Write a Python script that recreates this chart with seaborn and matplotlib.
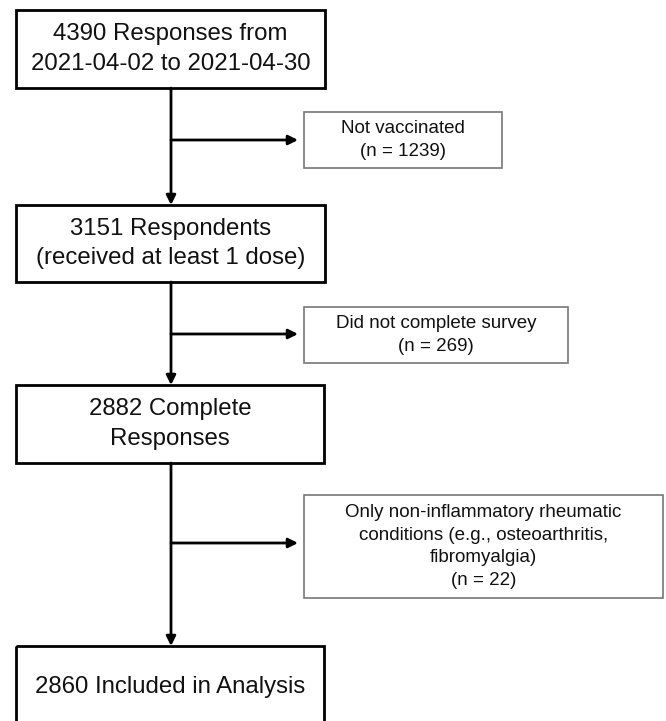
import matplotlib
matplotlib.use("Agg")
import matplotlib.pyplot as plt
from matplotlib.patches import Rectangle
import seaborn as sns

# flow data
main_counts = [4390, 3151, 2882, 2860]
main_texts = ["Responses from\n2021-04-02 to 2021-04-30",
              "Respondents\n(received at least 1 dose)",
              "Complete\nResponses",
              "Included in Analysis"]
excl_texts = ["Not vaccinated",
              "Did not complete survey",
              "Only non-inflammatory rheumatic\nconditions (e.g., osteoarthritis,\nfibromyalgia)"]
excl_n = [1239, 269, 22]

# layout (pixels, top-down)
main_boxes = [(16, 10, 325, 88), (16, 205, 325, 282), (16, 385, 324, 463), (16, 646, 324, 740)]
main_text_y = [49, 243.5, 424, 687]
excl_boxes = [(304, 112, 502, 168), (304, 307, 568, 363), (304, 495, 663, 598)]
branch_y = [140, 334, 543]
line_x = 171

sns.set_theme(style="white")
plt.rcParams['font.family'] = ['Liberation Sans', 'DejaVu Sans']

fig = plt.figure(figsize=(6.66, 7.21), dpi=100)
ax = fig.add_axes([0, 0, 1, 1])
ax.set_xlim(0, 666)
ax.set_ylim(721, 0)
ax.axis('off')

for (x0, y0, x1, y1), cnt, txt, ty in zip(main_boxes, main_counts, main_texts, main_text_y):
    ax.add_patch(Rectangle((x0, y0), x1 - x0, y1 - y0, fill=False, ec='black', lw=2.0))
    first, *rest = txt.split("\n")
    label = "\n".join([f"{cnt} {first}"] + rest)
    ax.text((x0 + x1) / 2, ty, label, ha='center', va='center', fontsize=17.3,
            linespacing=1.45, color='#111111')

for (x0, y0, x1, y1), txt, n in zip(excl_boxes, excl_texts, excl_n):
    ax.add_patch(Rectangle((x0, y0), x1 - x0, y1 - y0, fill=False, ec='#777777', lw=1.2))
    ax.text((x0 + x1) / 2, (y0 + y1) / 2, f"{txt}\n(n = {n})", ha='center', va='center',
            fontsize=13.5, linespacing=1.45, color='#111111')

arrow = dict(arrowstyle='-|>', mutation_scale=14, lw=2.0, color='black', shrinkA=0, shrinkB=0)
for i in range(len(main_boxes) - 1):
    ax.annotate("", xy=(line_x, main_boxes[i + 1][1]), xytext=(line_x, main_boxes[i][3]),
                arrowprops=arrow)
for by in branch_y:
    ax.annotate("", xy=(298, by), xytext=(line_x, by), arrowprops=arrow)

fig.savefig("out.png", dpi=100, facecolor='white')
